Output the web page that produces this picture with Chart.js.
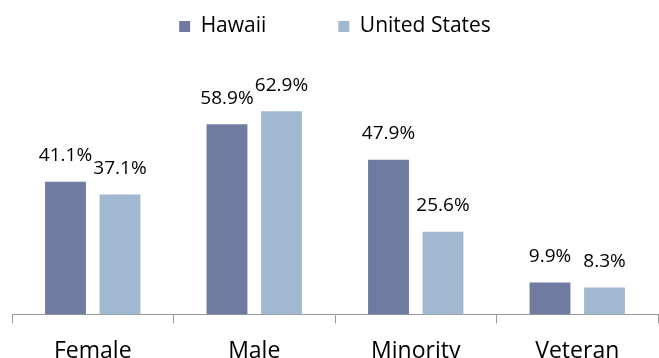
<!DOCTYPE html>
<html>
<head>
<meta charset="utf-8">
<script src="https://cdn.jsdelivr.net/npm/chart.js@4.4.1/dist/chart.umd.min.js"></script>
<style>
  html, body { margin: 0; padding: 0; background: #fff; }
  #wrap { width: 659px; height: 358px; }
</style>
</head>
<body>
<div id="wrap"><canvas id="genderChart"></canvas></div>
<script>
// ===== DATA =====
const categories = ['Female', 'Male', 'Minority', 'Veteran'];
const hawaiiValues = [41.1, 58.9, 47.9, 9.9];
const usValues = [37.1, 62.9, 25.6, 8.3];
const seriesNames = ['Hawaii', 'United States'];

const COLORS = {
  hawaii: '#707ba1',
  us:     '#a0b9d0',
  axis:   '#9a9a9a',
  text:   '#000000',
};

const FONT = "'Open Sans', 'DejaVu Sans', sans-serif";

// percentage text above each bar
const valueLabels = {
  id: 'valueLabels',
  afterDatasetsDraw(chart) {
    const ctx = chart.ctx;
    ctx.save();
    ctx.font = '19px ' + FONT;
    ctx.fillStyle = COLORS.text;
    ctx.textAlign = 'center';
    ctx.textBaseline = 'middle';
    chart.data.datasets.forEach((ds, di) => {
      chart.getDatasetMeta(di).data.forEach((bar, i) => {
        ctx.fillText(ds.data[i].toFixed(1) + '%', bar.x, bar.y - 26);
      });
    });
    ctx.restore();
  }
};

new Chart(document.getElementById('genderChart'), {
  type: 'bar',
  data: {
    labels: categories,
    datasets: [
      {
        label: seriesNames[0],
        data: hawaiiValues,
        backgroundColor: COLORS.hawaii,
        categoryPercentage: 0.675,
        barPercentage: 0.75,
      },
      {
        label: seriesNames[1],
        data: usValues,
        backgroundColor: COLORS.us,
        categoryPercentage: 0.675,
        barPercentage: 0.75,
      }
    ]
  },
  options: {
    responsive: true,
    maintainAspectRatio: false,
    animation: false,
    // legend padding is large to space the two items apart; pull it back up
    layout: { padding: { left: 12, right: 1, top: -56, bottom: -21 } },
    plugins: {
      legend: {
        position: 'top',
        labels: {
          color: COLORS.text,
          font: { size: 21, family: FONT },
          boxWidth: 11,
          boxHeight: 11,
          padding: 72,
        }
      },
      tooltip: { enabled: false }
    },
    scales: {
      x: {
        grid: { drawOnChartArea: false, drawTicks: true, tickLength: 9, color: COLORS.axis },
        border: { color: COLORS.axis, width: 1 },
        ticks: { color: COLORS.text, font: { size: 23, family: FONT }, padding: 14 }
      },
      y: {
        display: false,
        min: 0,
        max: 82.8,
      }
    }
  },
  plugins: [valueLabels]
});
</script>
</body>
</html>
